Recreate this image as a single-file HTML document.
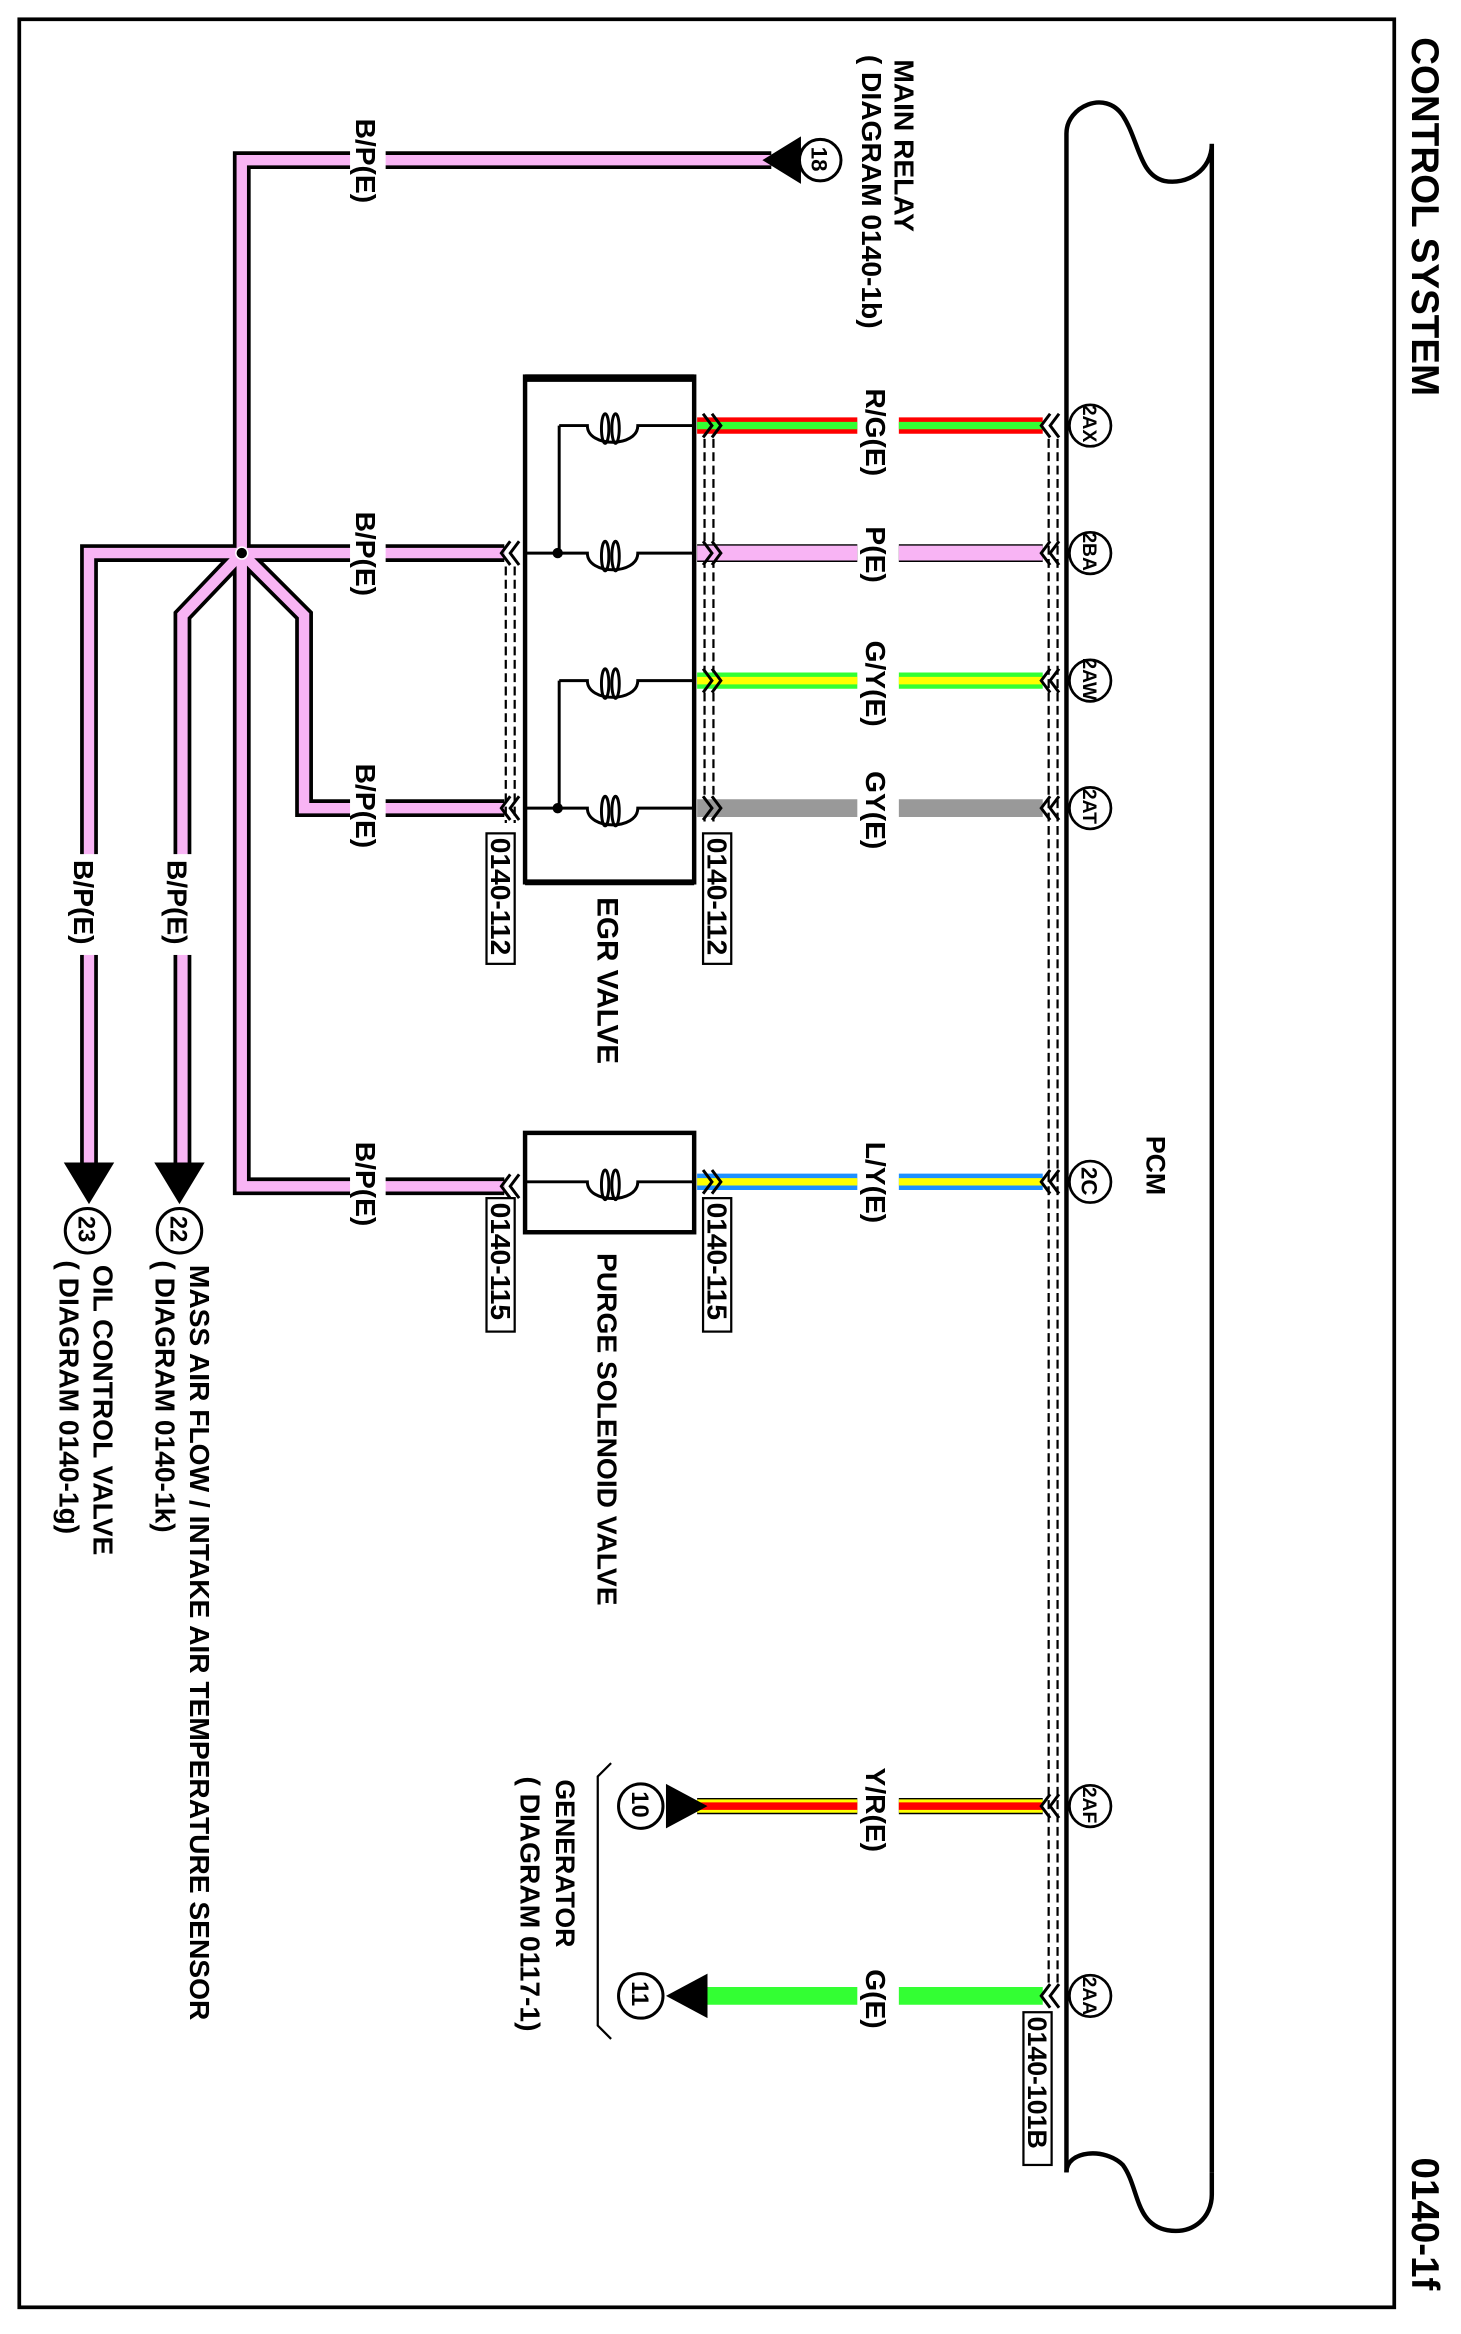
<!DOCTYPE html>
<html><head><meta charset="utf-8"><style>
html,body{margin:0;padding:0;background:#fff}
svg{display:block}
text{font-family:"Liberation Sans",sans-serif;font-weight:bold;fill:#000}
</style></head><body>
<svg width="1461" height="2334" viewBox="0 0 985 1574" preserveAspectRatio="none" xmlns="http://www.w3.org/2000/svg">
<rect x="0" y="0" width="985" height="1574" fill="#fff"/>
<rect x="13" y="13" width="927" height="1543" fill="none" stroke="#000" stroke-width="2.5"/>
<text transform="translate(952,25) rotate(90)" font-size="26" font-weight="normal">CONTROL SYSTEM</text>
<text transform="translate(952,1455) rotate(90)" font-size="26" font-weight="normal">0140-1f</text>

<!-- PCM -->
<g fill="none" stroke="#000" stroke-width="3">
<path d="M719,1465 V90 C719,72 745,60 757,78 C768,95 768,118 785,122 C800,125 817,115 817,97"/>
<path d="M817,97 V1465"/>
<path d="M719,1465 C719,1450 745,1448 757,1460 C768,1475 765,1500 787,1504 C805,1507 817,1495 817,1480 V1465"/>
</g>
<text transform="translate(773,766) rotate(90)" font-size="18">PCM</text>

<!-- shield dashed lines -->
<g stroke="#000" stroke-width="1.5" stroke-dasharray="6,3" fill="none">
<line x1="707" y1="296" x2="707" y2="1340"/><line x1="713" y1="296" x2="713" y2="1340"/>
<line x1="475" y1="296" x2="475" y2="555"/><line x1="481" y1="296" x2="481" y2="555"/>
<line x1="341" y1="382" x2="341" y2="555"/><line x1="347" y1="382" x2="347" y2="555"/>
</g>

<!-- B/P wires -->
<g fill="none" stroke-linejoin="miter">
<g stroke="#000" stroke-width="12">
<path d="M520,108 H163 V800 H340"/>
<path d="M163,373 H340"/>
<path d="M163,373 H60 V786"/>
<path d="M163,373 L123,415 V786"/>
<path d="M163,373 L205,415 V545 H340"/>
</g>
<g stroke="#f8b4f4" stroke-width="7">
<path d="M520,108 H163 V800 H340"/>
<path d="M163,373 H340"/>
<path d="M163,373 H60 V786"/>
<path d="M163,373 L123,415 V786"/>
<path d="M163,373 L205,415 V545 H340"/>
</g>
</g>
<circle cx="163" cy="373" r="4" fill="#000" stroke="#fff" stroke-width="1"/>
<!-- B/P labels -->
<g fill="#fff">
<rect x="236" y="76" width="24" height="68"/><rect x="236" y="341" width="24" height="68"/>
<rect x="236" y="511" width="24" height="68"/><rect x="236" y="766" width="24" height="68"/>
<rect x="46" y="576" width="24" height="68"/><rect x="109" y="576" width="24" height="68"/>
</g>
<g font-size="19">
<text transform="translate(240,80) rotate(90)">B/P(E)</text>
<text transform="translate(240,345) rotate(90)">B/P(E)</text>
<text transform="translate(240,515) rotate(90)">B/P(E)</text>
<text transform="translate(240,770) rotate(90)">B/P(E)</text>
<text transform="translate(50,580) rotate(90)">B/P(E)</text>
<text transform="translate(113,580) rotate(90)">B/P(E)</text>
</g>

<!-- arrows & circles -->
<polygon points="514,108 540,92 540,124" fill="#000"/>
<circle cx="553" cy="108" r="14" fill="#fff" stroke="#000" stroke-width="2"/>
<text transform="translate(547,99) rotate(90)" font-size="15">18</text>
<polygon points="43,784 77,784 60,812" fill="#000"/>
<circle cx="59" cy="830" r="15" fill="#fff" stroke="#000" stroke-width="2"/>
<text transform="translate(53,820) rotate(90)" font-size="16">23</text>
<polygon points="104,784 138,784 121,812" fill="#000"/>
<circle cx="121" cy="830" r="15" fill="#fff" stroke="#000" stroke-width="2"/>
<text transform="translate(115,820) rotate(90)" font-size="16">22</text>

<g font-size="19" font-weight="normal">
<text transform="translate(603,40) rotate(90)">MAIN RELAY</text>
<text transform="translate(581,37) rotate(90)">( DIAGRAM 0140-1b)</text>
<text transform="translate(128,853) rotate(90)" font-size="19">MASS AIR FLOW / INTAKE AIR TEMPERATURE SENSOR</text>
<text transform="translate(105,850) rotate(90)">( DIAGRAM 0140-1k)</text>
<text transform="translate(63,853) rotate(90)">OIL CONTROL VALVE</text>
<text transform="translate(40,850) rotate(90)">( DIAGRAM 0140-1g)</text>
<text transform="translate(403,605) rotate(90)" font-size="20">EGR VALVE</text>
<text transform="translate(403,845) rotate(90)" font-size="19">PURGE SOLENOID VALVE</text>
<text transform="translate(375,1200) rotate(90)" font-size="18">GENERATOR</text>
<text transform="translate(351,1198) rotate(90)">( DIAGRAM 0117-1)</text>
</g>

<!-- colored wires -->
<g fill="none">
<path d="M470,287 H578 M606,287 H703" stroke="#f00" stroke-width="11"/>
<path d="M470,287 H578 M606,287 H703" stroke="#3f3" stroke-width="5"/>
<path d="M470,373 H578 M606,373 H703" stroke="#000" stroke-width="12"/>
<path d="M470,373 H578 M606,373 H703" stroke="#f8b4f4" stroke-width="10"/>
<path d="M470,459 H578 M606,459 H703" stroke="#3f3" stroke-width="11"/>
<path d="M470,459 H578 M606,459 H703" stroke="#ff0" stroke-width="5"/>
<path d="M470,545 H578 M606,545 H703" stroke="#999" stroke-width="12"/>
<path d="M470,797 H578 M606,797 H703" stroke="#1e90ff" stroke-width="11"/>
<path d="M470,797 H578 M606,797 H703" stroke="#ff0" stroke-width="5"/>
<path d="M470,1218 H578 M606,1218 H703" stroke="#000" stroke-width="11"/>
<path d="M470,1218 H578 M606,1218 H703" stroke="#ff0" stroke-width="9"/>
<path d="M470,1218 H578 M606,1218 H703" stroke="#f00" stroke-width="5"/>
<path d="M476,1346 H578 M606,1346 H703" stroke="#3f3" stroke-width="12"/>
</g>
<g font-size="19">
<text transform="translate(584,262) rotate(90)">R/G(E)</text>
<text transform="translate(584,355) rotate(90)">P(E)</text>
<text transform="translate(584,432) rotate(90)">G/Y(E)</text>
<text transform="translate(584,520) rotate(90)">GY(E)</text>
<text transform="translate(584,770) rotate(90)">L/Y(E)</text>
<text transform="translate(584,1192) rotate(90)">Y/R(E)</text>
<text transform="translate(584,1328) rotate(90)">G(E)</text>
</g>

<!-- chevrons -->
<g fill="none" stroke="#000" stroke-width="2">
<path id="cp" d="M708,279 L702,287 L708,295 M714,279 L708,287 L714,295"/>
<use href="#cp" y="86"/><use href="#cp" y="172"/><use href="#cp" y="258"/><use href="#cp" y="510"/><use href="#cp" y="931"/><use href="#cp" y="1059"/>
<path id="cb" d="M474,279 L480,287 L474,295 M480,279 L486,287 L480,295"/>
<use href="#cb" y="86"/><use href="#cb" y="172"/><use href="#cb" y="258"/><use href="#cb" y="510"/>
<path id="cl" d="M344,365 L338,373 L344,381 M350,365 L344,373 L350,381"/>
<use href="#cl" y="172"/><use href="#cl" y="427"/>
</g>

<!-- pins -->
<g fill="#fff" stroke="#000" stroke-width="1.8">
<circle cx="735" cy="287" r="14"/><circle cx="735" cy="373" r="14"/><circle cx="735" cy="459" r="14"/>
<circle cx="735" cy="545" r="14"/><circle cx="735" cy="797" r="14"/><circle cx="735" cy="1218" r="14"/><circle cx="735" cy="1346" r="14"/>
</g>
<g font-size="13" font-weight="normal">
<text transform="translate(730,273) rotate(90)">2AX</text>
<text transform="translate(730,359) rotate(90)">2BA</text>
<text transform="translate(730,444) rotate(90)">2AW</text>
<text transform="translate(730,532) rotate(90)">2AT</text>
<text transform="translate(729,787) rotate(90)" font-size="15">2C</text>
<text transform="translate(730,1205) rotate(90)">2AF</text>
<text transform="translate(730,1333) rotate(90)">2AA</text>
</g>

<!-- EGR valve box -->
<rect x="354" y="254" width="114" height="341" fill="none" stroke="#000" stroke-width="3"/>
<line x1="354" y1="255" x2="468" y2="255" stroke="#000" stroke-width="5"/>
<line x1="354" y1="595" x2="468" y2="595" stroke="#000" stroke-width="4"/>
<g fill="none" stroke="#000" stroke-width="2">
<g id="coil"><path d="M468,287 H430 C430,302 396,302 396,287 H377"/><ellipse cx="408" cy="289" rx="2.5" ry="10"/><ellipse cx="415" cy="289" rx="2.5" ry="10"/></g>
<use href="#coil" y="86"/><use href="#coil" y="172"/><use href="#coil" y="258"/>
<path d="M377,287 V373 H354 M377,459 V545 H354"/>
</g>
<circle cx="376" cy="373" r="3.5"/><circle cx="376" cy="545" r="3.5"/>

<!-- purge box -->
<rect x="354" y="764" width="114" height="67" fill="none" stroke="#000" stroke-width="3"/>
<g fill="none" stroke="#000" stroke-width="2">
<path d="M468,797 H430 C430,812 396,812 396,797 H354"/><ellipse cx="408" cy="799" rx="2.5" ry="10"/><ellipse cx="415" cy="799" rx="2.5" ry="10"/>
</g>

<!-- connector labels -->
<g fill="#fff" stroke="#000" stroke-width="1.5">
<rect x="328" y="562" width="19" height="88"/><rect x="474" y="562" width="19" height="88"/>
<rect x="328" y="808" width="19" height="90"/><rect x="474" y="808" width="19" height="90"/>
<rect x="690" y="1357" width="19" height="103"/>
</g>
<g font-size="19" font-weight="normal">
<text transform="translate(331,565) rotate(90)">0140-112</text>
<text transform="translate(477,565) rotate(90)">0140-112</text>
<text transform="translate(331,811) rotate(90)">0140-115</text>
<text transform="translate(477,811) rotate(90)">0140-115</text>
<text transform="translate(693,1360) rotate(90)" font-size="18">0140-101B</text>
</g>

<!-- generator -->
<polygon points="449,1203 449,1233 477,1218" fill="#000"/>
<circle cx="432" cy="1218" r="15" fill="#fff" stroke="#000" stroke-width="2"/>
<text transform="translate(426,1208) rotate(90)" font-size="16">10</text>
<polygon points="449,1346 477,1331 477,1361" fill="#000"/>
<circle cx="432" cy="1346" r="15" fill="#fff" stroke="#000" stroke-width="2"/>
<text transform="translate(426,1336) rotate(90)" font-size="16">11</text>
<path d="M412,1189 L403,1198 V1366 L412,1375" fill="none" stroke="#000" stroke-width="1.5"/>
</svg>
</body></html>
